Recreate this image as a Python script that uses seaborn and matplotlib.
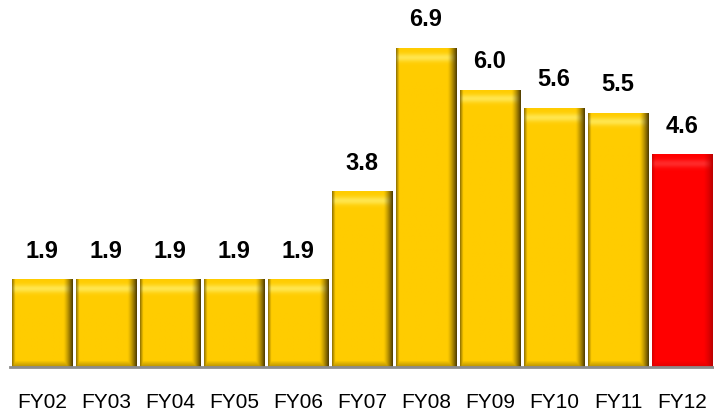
import numpy as np
import pandas as pd
import matplotlib
matplotlib.use("Agg")
import matplotlib.pyplot as plt
import seaborn as sns

years = ["FY02", "FY03", "FY04", "FY05", "FY06", "FY07", "FY08", "FY09", "FY10", "FY11", "FY12"]
values = [1.9, 1.9, 1.9, 1.9, 1.9, 3.8, 6.9, 6.0, 5.6, 5.5, 4.6]
bar_colors = ["#FFCC00"] * 10 + ["#FF0000"]

sns.set_theme(style="white")
plt.rcParams["font.family"] = ["Liberation Sans", "DejaVu Sans"]

df = pd.DataFrame({"year": years, "value": values})

fig = plt.figure(figsize=(7.14, 4.13), dpi=100)
ax = fig.add_axes([10 / 714, 46 / 413, 704 / 714, 367 / 413])

sns.barplot(
    data=df, x="year", y="value", hue="year", palette=bar_colors,
    legend=False, width=0.95, ax=ax, saturation=1,
)


def shade(patch, base, dark, light):
    # fake the bevelled 3-D look with a clipped gradient image
    x0, y0 = patch.get_x(), patch.get_y()
    w, h = patch.get_width(), patch.get_height()
    nx, ny = 64, max(int(h * 46), 2)
    base, dark, light = (np.array(c, dtype=float) / 255 for c in (base, dark, light))
    xs = np.linspace(0, 1, nx)
    hx = np.clip(1 - xs / 0.05, 0, 1) * 0.6 + np.clip((xs - 0.85) / 0.15, 0, 1) ** 1.3
    hx = np.clip(hx, 0, 1)
    from_top = np.arange(ny)[::-1]  # row 0 is the bottom (origin="lower")
    top = np.exp(-((from_top - 9) / 4.0) ** 2) * 0.7
    bot = np.clip(1 - np.arange(ny) / 6, 0, 1) * 0.4
    img = base[None, None, :] * np.ones((ny, nx, 1))
    img = img + (light - base)[None, None, :] * top[:, None, None]
    img = img + (dark - img) * np.maximum(hx[None, :, None], bot[:, None, None])
    im = ax.imshow(np.clip(img, 0, 1), extent=(x0, x0 + w, y0, y0 + h),
                   aspect="auto", origin="lower", zorder=patch.get_zorder() + 0.1,
                   interpolation="bilinear")
    im.set_clip_path(patch)


for patch, c in zip(ax.patches, bar_colors):
    if c == "#FF0000":
        shade(patch, (255, 0, 0), (190, 0, 0), (255, 60, 60))
    else:
        shade(patch, (255, 204, 0), (85, 65, 0), (255, 240, 110))

for cont in ax.containers:
    ax.bar_label(cont, fmt="%.1f", padding=12, fontsize=17,
                 fontweight="bold", color="black")

ax.set_xlim(-0.5, 10.5)
ax.set_ylim(0, 7.94)
ax.set_xlabel("")
ax.set_ylabel("")
ax.set_yticks([])
ax.tick_params(axis="x", length=0, pad=19, labelsize=15, colors="black")
for s in ["top", "right", "left"]:
    ax.spines[s].set_visible(False)
ax.spines["bottom"].set_color("#8c8c8c")
ax.spines["bottom"].set_linewidth(2)
ax.spines["bottom"].set_zorder(5)
ax.set_facecolor("white")

fig.savefig("out.png", dpi=100)
